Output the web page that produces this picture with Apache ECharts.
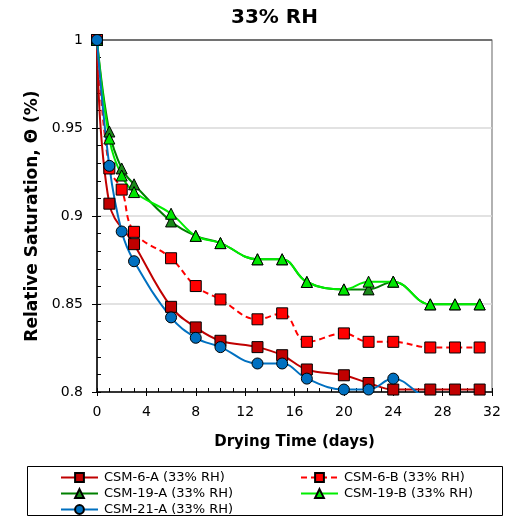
<!DOCTYPE html>
<html>
<head>
<meta charset="utf-8">
<script src="https://cdn.jsdelivr.net/npm/echarts@6/dist/echarts.min.js"></script>
<style>
  html, body { margin: 0; padding: 0; background: #fff; }
  #chart { width: 508px; height: 517px; }
</style>
</head>
<body>
<div id="chart"></div>
<script>
// Drying curves at 33% RH: relative saturation vs drying time
const chartTitle = '33% RH';
const xTitle = 'Drying Time (days)';
const yTitle = 'Relative Saturation, \u0398 (%)';

const days6A  = [0, 1, 3, 6, 8, 10, 13, 15, 17, 20, 22, 24, 27, 29, 31];
const sat6A   = [1, 0.907, 0.884, 0.8484, 0.8367, 0.8291, 0.8255, 0.8209, 0.8128, 0.8095, 0.8051, 0.8014, 0.8014, 0.8014, 0.8014];

const days6B  = [0, 1, 2, 3, 6, 8, 10, 13, 15, 17, 20, 22, 24, 27, 29, 31];
const sat6B   = [1, 0.927, 0.915, 0.891, 0.876, 0.8602, 0.8526, 0.8413, 0.8447, 0.8285, 0.8333, 0.8285, 0.8285, 0.8253, 0.8253, 0.8253];

const days19A = [0, 1, 2, 3, 6, 8, 10, 13, 15, 17, 20, 22, 24, 27, 29, 31];
const sat19A  = [1, 0.948, 0.927, 0.918, 0.8969, 0.8887, 0.8846, 0.8754, 0.8754, 0.8625, 0.8583, 0.8583, 0.8627, 0.8498, 0.8498, 0.8498];

const days19B = [0, 1, 2, 3, 6, 8, 10, 13, 15, 17, 20, 22, 24, 27, 29, 31];
const sat19B  = [1, 0.944, 0.923, 0.9136, 0.9013, 0.8887, 0.8846, 0.8754, 0.8754, 0.8625, 0.8583, 0.8627, 0.8627, 0.8498, 0.8498, 0.8498];

const days21A = [0, 1, 2, 3, 6, 8, 10, 13, 15, 17, 20, 22, 24, 27, 29, 31];
const sat21A  = [1, 0.9285, 0.8912, 0.8743, 0.8424, 0.8308, 0.8255, 0.8162, 0.8162, 0.8076, 0.8014, 0.8014, 0.8076, 0.797, 0.797, 0.797];

const seriesNames = ['CSM-6-A (33% RH)', 'CSM-6-B (33% RH)', 'CSM-19-A (33% RH)', 'CSM-19-B (33% RH)', 'CSM-21-A (33% RH)'];

const xMin = 0, xMax = 32, xStep = 4, xMinorStep = 1;
const yMin = 0.8, yMax = 1, yStep = 0.05, yMinorStep = 0.01;

const FONT = 'DejaVu Sans';

function pairs(xs, ys) { return xs.map((x, i) => [x, ys[i]]); }

function lineSeries(name, xs, ys, color, fill, symbol, dashed, size) {
  return {
    name: name,
    type: 'line',
    xAxisIndex: 0,
    yAxisIndex: 0,
    data: pairs(xs, ys),
    smooth: 0.4,
    clip: true,
    symbol: symbol,
    symbolSize: size,
    showAllSymbol: true,
    lineStyle: { color: color, width: 2, type: dashed ? [6, 4] : 'solid' },
    itemStyle: { color: fill, borderColor: '#000', borderWidth: 1 },
    emphasis: { disabled: true },
    animation: false
  };
}

const chart = echarts.init(document.getElementById('chart'), null, { renderer: 'canvas' });

const gridBox = { left: 97, right: 16, top: 40, bottom: 125 };

const legendCommon = {
  orient: 'vertical', top: 471, padding: 0,
  itemWidth: 37, itemHeight: 11, itemGap: 3,
  textStyle: { fontFamily: FONT, fontSize: 13, color: '#000', padding: [0, 0, 0, 1] },
  selectedMode: false
};

// tick-only axis sharing the main scale, used for the fine inside ticks
function tickAxis(min, max, step, pos) {
  return {
    type: 'value', min: min, max: max, interval: step, position: pos,
    axisLine: { show: false },
    axisTick: { show: true, inside: true, length: 4, lineStyle: { color: '#000', width: 1 } },
    axisLabel: { show: false },
    splitLine: { show: false }
  };
}

const option = {
  backgroundColor: '#fff',
  animation: false,
  title: {
    text: chartTitle,
    left: 226,
    top: 3,
    textStyle: { fontFamily: FONT, fontSize: 20, fontWeight: 'bold', color: '#000' }
  },
  grid: Object.assign({ show: true, borderColor: '#7f7f7f', borderWidth: 1.2, backgroundColor: 'transparent' }, gridBox),
  xAxis: [
    {
      type: 'value', min: xMin, max: xMax, interval: xStep,
      name: xTitle, nameLocation: 'middle', nameGap: 43,
      nameTextStyle: { fontFamily: FONT, fontSize: 15, fontWeight: 'bold', color: '#000' },
      axisLine: { show: true, lineStyle: { color: '#000', width: 1.5 } },
      axisTick: { show: true, inside: false, length: 4, lineStyle: { color: '#000', width: 1 } },
      axisLabel: { fontFamily: FONT, fontSize: 14, color: '#000', margin: 13 },
      splitLine: { show: false }
    },
    tickAxis(xMin, xMax, xMinorStep, 'bottom')
  ],
  yAxis: [
    {
      type: 'value', min: yMin, max: yMax, interval: yStep,
      name: yTitle, nameLocation: 'middle', nameGap: 56,
      nameTextStyle: { fontFamily: FONT, fontSize: 17, fontWeight: 'bold', color: '#000' },
      axisLine: { show: true, lineStyle: { color: '#000', width: 1.5 } },
      axisTick: { show: true, inside: false, length: 5, lineStyle: { color: '#000', width: 1 } },
      axisLabel: { fontFamily: FONT, fontSize: 14, color: '#000', margin: 14 },
      splitLine: { show: true, lineStyle: { color: ['#d9d9d9', '#d9d9d9', '#d9d9d9', '#d9d9d9', '#595959'], width: 1.5 } }
    },
    tickAxis(yMin, yMax, yMinorStep, 'left')
  ],
  legend: [
    Object.assign({ left: 60, data: [seriesNames[0], seriesNames[2], seriesNames[4]] }, legendCommon),
    Object.assign({ left: 300, data: [seriesNames[1], seriesNames[3]] }, legendCommon)
  ],
  graphic: [
    {
      type: 'rect', left: 27, top: 466, z: -1,
      shape: { width: 475, height: 49 },
      style: { fill: '#fff', stroke: '#000', lineWidth: 1 }
    }
  ],
  series: [
    lineSeries(seriesNames[0], days6A, sat6A, '#c00000', '#c00000', 'rect', false, 11),
    lineSeries(seriesNames[1], days6B, sat6B, '#ff0000', '#ff0000', 'rect', true, 11),
    lineSeries(seriesNames[2], days19A, sat19A, '#008000', '#1a8a1a', 'triangle', false, 11),
    lineSeries(seriesNames[3], days19B, sat19B, '#00ee00', '#00e600', 'triangle', false, 11),
    lineSeries(seriesNames[4], days21A, sat21A, '#0070c0', '#0070c0', 'circle', false, 11)
  ]
};

chart.setOption(option);
</script>
</body>
</html>
